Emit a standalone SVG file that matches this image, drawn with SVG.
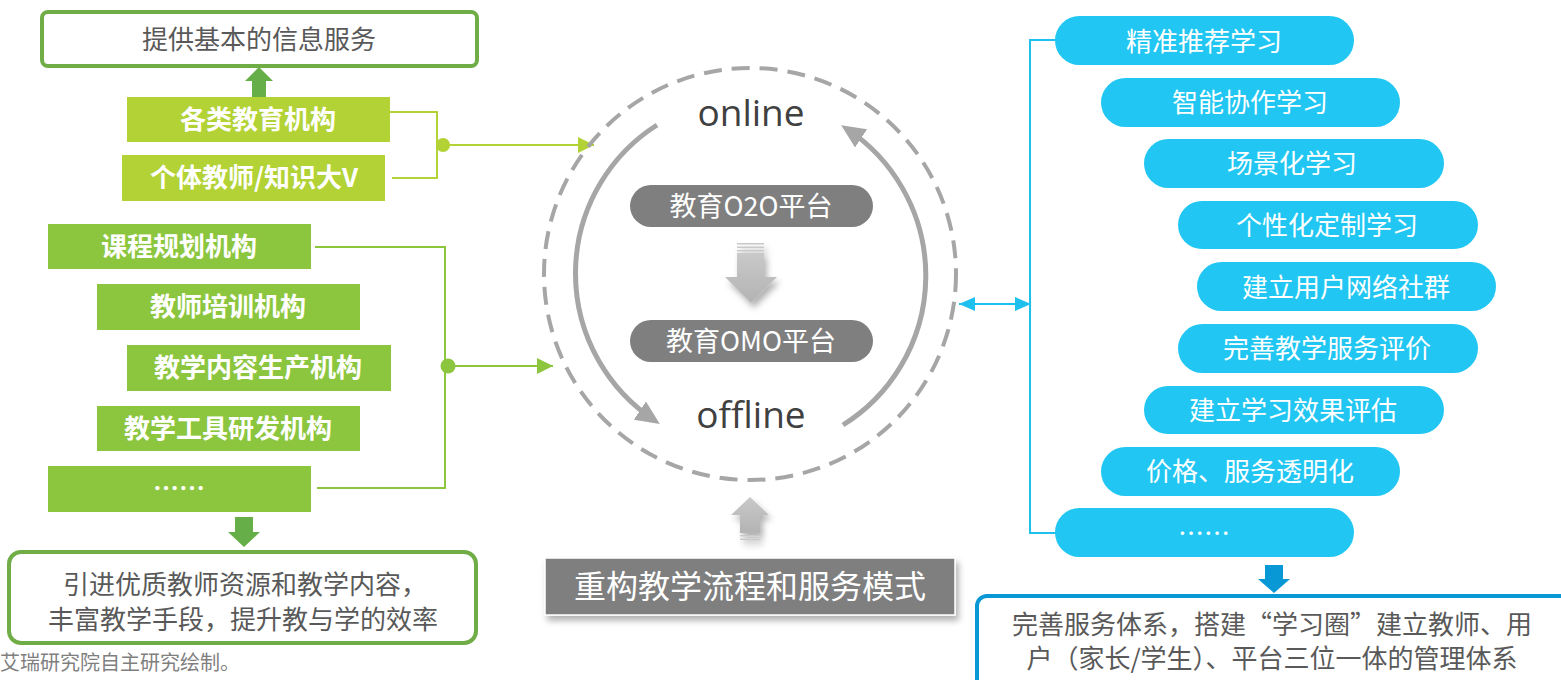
<svg xmlns="http://www.w3.org/2000/svg" width="1561" height="680" viewBox="0 0 1561 680">
<style>
.cjk{font-family:"Noto Sans CJK SC","Noto Sans",sans-serif;}
.lat{font-family:"Open Sans","Noto Sans",sans-serif;}
.gtxt{font-size:26px;fill:#595959;}
.btxt{font-size:26px;font-weight:bold;fill:#ffffff;}
.ptxt{font-size:26px;fill:#ffffff;}
.pill{fill:#21c7f2;}
.box1{fill:#b2d235;}
.box2{fill:#8cc63f;}
.gbox{fill:#ffffff;stroke:#70ad47;stroke-width:4;}
.gline1{fill:none;stroke:#b2d235;stroke-width:2;}
.gline2{fill:none;stroke:#8cc63f;stroke-width:2;}
.bline{fill:none;stroke:#1fc0ee;stroke-width:2;}
.arc{fill:none;stroke:#a6a6a6;stroke-width:5;}
</style>
<defs>
<marker id="mg1" markerUnits="userSpaceOnUse" markerWidth="16" markerHeight="16" refX="16" refY="8" orient="auto"><path d="M0,0 L16,8 L0,16 z" fill="#b2d235"/></marker>
<marker id="mg2" markerUnits="userSpaceOnUse" markerWidth="16" markerHeight="16" refX="16" refY="8" orient="auto"><path d="M0,0 L16,8 L0,16 z" fill="#8cc63f"/></marker>
<marker id="mb" markerUnits="userSpaceOnUse" markerWidth="16" markerHeight="14" refX="16" refY="7" orient="auto-start-reverse"><path d="M0,0 L16,7 L0,14 z" fill="#1fc0ee"/></marker>
<marker id="ma" markerUnits="userSpaceOnUse" markerWidth="24" markerHeight="22" refX="17" refY="11" orient="auto"><path d="M0,0 L24,11 L0,22 z" fill="#a6a6a6"/></marker>
<filter id="sh" x="-20%" y="-20%" width="140%" height="160%"><feDropShadow dx="3" dy="5" stdDeviation="3" flood-color="#000" flood-opacity="0.3"/></filter>
<linearGradient id="ag" x1="0" y1="0" x2="0" y2="1"><stop offset="0" stop-color="#c9c9c9"/><stop offset="1" stop-color="#b3b3b3"/></linearGradient>
</defs>

<g id="connectors">
<path class="gline1" d="M390,112 H437 V178 H392"/>
<circle cx="443" cy="145" r="7" fill="#b2d235"/>
<line class="gline1" x1="443" y1="145" x2="594" y2="145" marker-end="url(#mg1)"/>
<path class="gline2" d="M315,247 H445 V488 H317"/>
<circle cx="448" cy="366" r="7.5" fill="#8cc63f"/>
<line class="gline2" x1="448" y1="366" x2="553" y2="366" marker-end="url(#mg2)"/>
<path class="bline" d="M1056,40 H1030 V533 H1056"/>
<line class="bline" x1="959" y1="304" x2="1031" y2="304" marker-start="url(#mb)" marker-end="url(#mb)"/>
<path d="M252,97 V81 H245 L259,67 L273,81 H266 V97 z" fill="#66ae47"/>
<path d="M235,517 H253 V532 H260 L244,547 L228,532 H235 z" fill="#66ae47"/>
<path d="M1265,565 H1283 V579 H1290 L1274,593 L1258,579 H1265 z" fill="#0898d6"/>
</g>

<g id="cycle">
<circle cx="750" cy="274" r="206" fill="none" stroke="#a6a6a6" stroke-width="4" stroke-dasharray="18 10"/>
<path class="arc" d="M657,125 A176,176 0 0 0 654,420" marker-end="url(#ma)"/>
<path class="arc" d="M843,425 A176,176 0 0 0 847,129" marker-end="url(#ma)"/>
<text class="lat" x="751" y="126" font-size="37" fill="#404040" text-anchor="middle">online</text>
<text class="lat" x="751" y="428" font-size="37" fill="#404040" text-anchor="middle">offline</text>
</g>

<g id="o2o">
<rect x="630" y="185" width="243" height="42" rx="21" fill="#7f7f7f"/>
<text class="cjk" x="751" y="216" font-size="27" fill="#ffffff" text-anchor="middle">教育O2O平台</text>
</g>
<g id="transition-arrow" filter="url(#sh)">
<rect x="737" y="243" width="27" height="1.5" fill="#c9c9c9"/>
<rect x="737" y="246.5" width="27" height="1.5" fill="#c9c9c9"/>
<rect x="737" y="250" width="27" height="1.5" fill="#c9c9c9"/>
<path d="M737,253 H764 V277 H777 L751,303 L725,277 H737 z" fill="url(#ag)"/>
</g>
<g id="omo">
<rect x="630" y="320" width="243" height="42" rx="21" fill="#7f7f7f"/>
<text class="cjk" x="751" y="351" font-size="27" fill="#ffffff" text-anchor="middle">教育OMO平台</text>
</g>

<g id="restructure-arrow" filter="url(#sh)">
<path d="M750,497 L769,515 H760 V533 H740 V515 H731 z" fill="url(#ag)"/>
<rect x="740" y="535" width="20" height="1.5" fill="#c9c9c9"/>
<rect x="740" y="538.5" width="20" height="1.5" fill="#c9c9c9"/>
</g>
<g id="restructure">
<rect x="545" y="558" width="410" height="57" fill="#7f7f7f" stroke="#ffffff" stroke-width="1.5" filter="url(#sh)"/>
<text class="cjk" x="750" y="598" font-size="32" fill="#ffffff" text-anchor="middle">重构教学流程和服务模式</text>
</g>

<g id="info-service">
<rect class="gbox" x="42" y="12" width="435" height="54" rx="6"/>
<text class="cjk gtxt" x="259" y="49" text-anchor="middle">提供基本的信息服务</text>
</g>
<g id="edu-org">
<rect class="box1" x="127" y="97" width="263" height="45"/>
<text class="cjk btxt" x="258" y="129" text-anchor="middle">各类教育机构</text>
</g>
<g id="teacher">
<rect class="box1" x="122" y="155" width="263" height="46"/>
<text class="cjk btxt" x="254" y="187" text-anchor="middle">个体教师/知识大V</text>
</g>
<g id="course-org">
<rect class="box2" x="48" y="224" width="263" height="45"/>
<text class="cjk btxt" x="179" y="256" text-anchor="middle">课程规划机构</text>
</g>
<g id="training-org">
<rect class="box2" x="97" y="284" width="263" height="46"/>
<text class="cjk btxt" x="228" y="316" text-anchor="middle">教师培训机构</text>
</g>
<g id="content-org">
<rect class="box2" x="127" y="345" width="264" height="46"/>
<text class="cjk btxt" x="258" y="377" text-anchor="middle">教学内容生产机构</text>
</g>
<g id="tool-org">
<rect class="box2" x="97" y="406" width="263" height="45"/>
<text class="cjk btxt" x="228" y="438" text-anchor="middle">教学工具研发机构</text>
</g>
<g id="more-org">
<rect class="box2" x="48" y="466" width="263" height="46"/>
<text class="cjk btxt" x="179" y="498" text-anchor="middle">……</text>
</g>
<g id="quality">
<rect class="gbox" x="9" y="552" width="467" height="91" rx="12"/>
<text class="cjk gtxt" x="245" y="594" text-anchor="middle">引进优质教师资源和教学内容，</text>
<text class="cjk gtxt" x="243" y="629" text-anchor="middle">丰富教学手段，提升教与学的效率</text>
</g>
<text id="source" class="cjk" x="0" y="670" font-size="20" fill="#7f7f7f">艾瑞研究院自主研究绘制。</text>

<g id="p1"><rect class="pill" x="1055" y="16" width="299" height="49" rx="24.5"/><text class="cjk ptxt" x="1204" y="51" text-anchor="middle">精准推荐学习</text></g>
<g id="p2"><rect class="pill" x="1101" y="78" width="299" height="49" rx="24.5"/><text class="cjk ptxt" x="1250" y="112" text-anchor="middle">智能协作学习</text></g>
<g id="p3"><rect class="pill" x="1144" y="139" width="300" height="49" rx="24.5"/><text class="cjk ptxt" x="1292" y="173" text-anchor="middle">场景化学习</text></g>
<g id="p4"><rect class="pill" x="1178" y="201" width="300" height="48" rx="24"/><text class="cjk ptxt" x="1327" y="235" text-anchor="middle">个性化定制学习</text></g>
<g id="p5"><rect class="pill" x="1197" y="262" width="299" height="49" rx="24.5"/><text class="cjk ptxt" x="1346" y="297" text-anchor="middle">建立用户网络社群</text></g>
<g id="p6"><rect class="pill" x="1178" y="324" width="300" height="49" rx="24.5"/><text class="cjk ptxt" x="1327" y="358" text-anchor="middle">完善教学服务评价</text></g>
<g id="p7"><rect class="pill" x="1144" y="386" width="300" height="48" rx="24"/><text class="cjk ptxt" x="1293" y="420" text-anchor="middle">建立学习效果评估</text></g>
<g id="p8"><rect class="pill" x="1101" y="447" width="299" height="49" rx="24.5"/><text class="cjk ptxt" x="1250" y="481" text-anchor="middle">价格、服务透明化</text></g>
<g id="p9"><rect class="pill" x="1055" y="508" width="299" height="49" rx="24.5"/><text class="cjk ptxt" x="1204" y="543" text-anchor="middle" font-size="18">……</text></g>

<g id="service-system">
<rect x="977" y="596" width="620" height="100" rx="10" fill="#ffffff" stroke="#0898d6" stroke-width="4"/>
<text class="cjk gtxt" x="1272" y="634" text-anchor="middle">完善服务体系，搭建“学习圈”建立教师、用</text>
<text class="cjk gtxt" x="1272" y="668" text-anchor="middle">户（家长/学生）、平台三位一体的管理体系</text>
</g>
</svg>
